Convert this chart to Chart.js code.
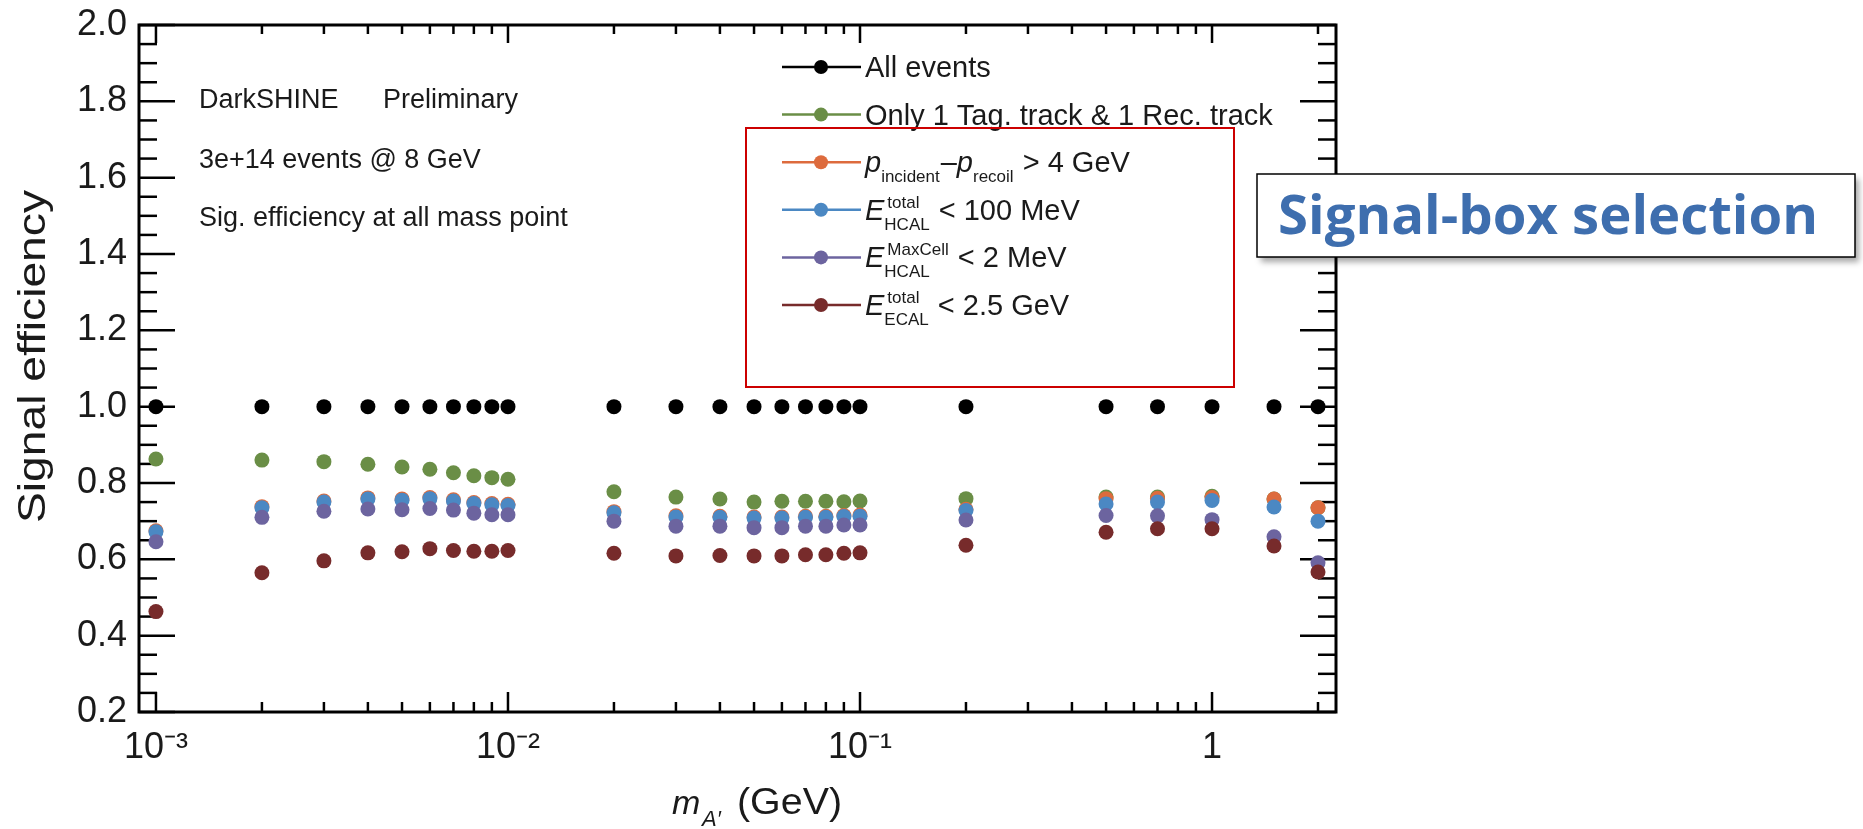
<!DOCTYPE html>
<html>
<head>
<meta charset="utf-8">
<script src="https://cdn.jsdelivr.net/npm/chart.js@4.4.0/dist/chart.umd.min.js"></script>
<style>
    html, body { margin: 0; padding: 0; background: #fff; }
    #wrap { width: 1863px; height: 829px; position: relative; }
</style>
</head>
<body>
<div id="wrap"><canvas id="chart-eff"></canvas></div>
<script>
// A' mass points (GeV)
const masses = [0.001, 0.002, 0.003, 0.004, 0.005, 0.006, 0.007, 0.008, 0.009, 0.01,
    0.02, 0.03, 0.04, 0.05, 0.06, 0.07, 0.08, 0.09, 0.1, 0.2, 0.5, 0.7, 1, 1.5, 2];

const allEvents = [1, 1, 1, 1, 1, 1, 1, 1, 1, 1, 1, 1, 1, 1, 1, 1, 1, 1, 1, 1, 1, 1, 1, 1, 1];
const oneTagOneRec = [0.863, 0.860, 0.856, 0.849, 0.842, 0.836, 0.827, 0.819, 0.814, 0.810,
    0.777, 0.763, 0.758, 0.750, 0.752, 0.752, 0.752, 0.751, 0.753, 0.759, 0.763, 0.763, 0.765, 0.758, 0.735];
const pCut = [0.675, 0.738, 0.753, 0.761, 0.758, 0.762, 0.756, 0.749, 0.746, 0.744,
    0.725, 0.714, 0.713, 0.711, 0.711, 0.713, 0.713, 0.715, 0.716, 0.731, 0.759, 0.760, 0.762, 0.758, 0.735];
const hcalTotal = [0.672, 0.735, 0.750, 0.758, 0.755, 0.759, 0.753, 0.746, 0.743, 0.741,
    0.722, 0.711, 0.710, 0.708, 0.708, 0.710, 0.710, 0.712, 0.713, 0.728, 0.745, 0.750, 0.754, 0.737, 0.700];
const hcalMaxCell = [0.646, 0.710, 0.726, 0.732, 0.730, 0.733, 0.729, 0.721, 0.717, 0.717,
    0.700, 0.687, 0.687, 0.683, 0.683, 0.687, 0.687, 0.690, 0.690, 0.703, 0.715, 0.714, 0.704, 0.659, 0.591];
const ecalTotal = [0.463, 0.565, 0.596, 0.617, 0.620, 0.628, 0.623, 0.621, 0.621, 0.623,
    0.616, 0.609, 0.610, 0.609, 0.609, 0.612, 0.612, 0.616, 0.617, 0.637, 0.671, 0.680, 0.680, 0.635, 0.567];

const seriesNames = ["All events", "Only 1 Tag. track & 1 Rec. track", "p_incident - p_recoil > 4 GeV",
    "E^total_HCAL < 100 MeV", "E^MaxCell_HCAL < 2 MeV", "E^total_ECAL < 2.5 GeV"];
const colors = ["#000000", "#6a8e46", "#dd6b3d", "#4b88c3", "#6c649f", "#772b2b"];

const xTickValues = [0.001, 0.01, 0.1, 1];
const xTickLabels = ["10\u207B\u00B3", "10\u207B\u00B2", "10\u207B\u00B9", "1"];
const yTickValues = [0.2, 0.4, 0.6, 0.8, 1.0, 1.2, 1.4, 1.6, 1.8, 2.0];
const yTickLabels = ["0.2", "0.4", "0.6", "0.8", "1.0", "1.2", "1.4", "1.6", "1.8", "2.0"];

const infoLines = ["3e+14 events @ 8 GeV", "Sig. efficiency at all mass point"];

// rich legend labels (segments: t = text, it = italic, sup/sub = small stacked)
const legendRich = [
    [{ t: "All events" }],
    [{ t: "Only 1 Tag. track & 1 Rec. track" }],
    [{ t: "p", it: true }, { sub: "incident" }, { t: "\u2013" }, { t: "p", it: true }, { sub: "recoil" }, { t: " > 4 GeV" }],
    [{ t: "E", it: true }, { sup: "total", sub: "HCAL" }, { t: " < 100 MeV" }],
    [{ t: "E", it: true }, { sup: "MaxCell", sub: "HCAL" }, { t: " < 2 MeV" }],
    [{ t: "E", it: true }, { sup: "total", sub: "ECAL" }, { t: " < 2.5 GeV" }],
];

const FONT = '"Liberation Sans", Arial, sans-serif';
const TXT = "#1a1a1a";

const seriesValues = [allEvents, oneTagOneRec, pCut, hcalTotal, hcalMaxCell, ecalTotal];

function drawRich(ctx, segs, x, y, size, small) {
    segs.forEach((s) => {
        if (s.sup !== undefined || s.sub !== undefined) {
            ctx.font = small + "px " + FONT;
            let w = 0;
            if (s.sup) {
                ctx.fillText(s.sup, x + 3, y - size * 0.42);
                w = ctx.measureText(s.sup).width + 3;
            }
            if (s.sub) {
                ctx.fillText(s.sub, x, y + size * 0.34);
                w = Math.max(w, ctx.measureText(s.sub).width);
            }
            x += w + 1;
        } else {
            ctx.font = (s.it ? "italic " : "") + size + "px " + FONT;
            ctx.fillText(s.t, x, y);
            x += ctx.measureText(s.t).width;
        }
    });
    return x;
}

// stretched text along its own baseline
function fillStretch(ctx, str, x, y, sx) {
    ctx.save();
    ctx.translate(x, y);
    ctx.scale(sx, 1);
    ctx.fillText(str, 0, 0);
    ctx.restore();
}

const framePlugin = {
    id: "frame",
    beforeDatasetsDraw(chart) {
        const { ctx, chartArea } = chart;
        const { left, right, top, bottom } = chartArea;
        const xs = chart.scales.x;
        const ys = chart.scales.y;
        ctx.save();
        ctx.strokeStyle = "#000";
        ctx.lineWidth = 2.5;
        const line = (x1, y1, x2, y2) => {
            ctx.beginPath();
            ctx.moveTo(x1, y1);
            ctx.lineTo(x2, y2);
            ctx.stroke();
        };
        xs.ticks.forEach((t) => {
            const px = xs.getPixelForValue(t.value);
            const major = xTickValues.some((v) => Math.abs(v - t.value) < v * 1e-6);
            line(px, bottom, px, bottom - (major ? 20 : 10));
            line(px, top, px, top + (major ? 18 : 9));
        });
        for (let k = 0; k <= 36; k++) {
            const v = 0.2 + k * 0.05;
            const py = ys.getPixelForValue(v);
            const len = k % 4 === 0 ? 36 : 18;
            line(left, py, left + len, py);
            line(right, py, right - len, py);
        }
        ctx.lineWidth = 3;
        ctx.strokeRect(left, top, right - left, bottom - top);
        ctx.restore();
    },
    afterDraw(chart) {
        const { ctx, chartArea } = chart;
        const { left, top, bottom } = chartArea;
        ctx.save();
        ctx.fillStyle = TXT;
        ctx.textBaseline = "alphabetic";

        // info text
        ctx.font = "27px " + FONT;
        ctx.fillText("DarkSHINE", left + 60, top + 83);
        ctx.fillText("Preliminary", left + 244, top + 83);
        infoLines.forEach((s, i) => ctx.fillText(s, left + 60, top + 143 + i * 58));

        // y axis title
        ctx.save();
        ctx.translate(35, (top + bottom) / 2 - 12);
        ctx.rotate(-Math.PI / 2);
        ctx.font = "38px " + FONT;
        ctx.textAlign = "center";
        ctx.textBaseline = "middle";
        const tw = ctx.measureText("Signal efficiency").width;
        ctx.scale(333 / tw, 1);
        ctx.fillText("Signal efficiency", 0, 0);
        ctx.restore();

        // legend
        legendRich.forEach((segs, i) => {
            const cy = top + 42 + i * 47.6;
            ctx.strokeStyle = colors[i];
            ctx.lineWidth = 2.5;
            ctx.beginPath();
            ctx.moveTo(782, cy);
            ctx.lineTo(861, cy);
            ctx.stroke();
            ctx.fillStyle = colors[i];
            ctx.beginPath();
            ctx.arc(821, cy, 7, 0, Math.PI * 2);
            ctx.fill();
            ctx.fillStyle = TXT;
            drawRich(ctx, segs, 865, cy + 10, 29, 17);
        });

        // red highlight box around the signal-box cuts
        ctx.strokeStyle = "#cc0000";
        ctx.lineWidth = 2;
        ctx.strokeRect(746, 128, 488, 259);

        // x axis title: m_A' (GeV)
        ctx.fillStyle = TXT;
        ctx.font = "italic 34px " + FONT;
        ctx.fillText("m", 672, 814);
        ctx.font = "italic 22px " + FONT;
        ctx.fillText("A\u2032", 702, 826);
        ctx.font = "36px " + FONT;
        const gw = ctx.measureText("(GeV)").width;
        fillStretch(ctx, "(GeV)", 737, 814, 105 / gw);

        // callout box
        ctx.shadowColor = "rgba(0,0,0,0.35)";
        ctx.shadowBlur = 6;
        ctx.shadowOffsetX = 4;
        ctx.shadowOffsetY = 5;
        ctx.fillStyle = "#fff";
        ctx.fillRect(1257, 174, 598, 83);
        ctx.shadowColor = "transparent";
        ctx.strokeStyle = "#000";
        ctx.lineWidth = 1.5;
        ctx.strokeRect(1257, 174, 598, 83);
        ctx.fillStyle = "#3e6eae";
        ctx.font = 'bold 54px "Open Sans", "Noto Sans", sans-serif';
        const sw = ctx.measureText("Signal-box selection").width;
        fillStretch(ctx, "Signal-box selection", 1278, 234, 540 / sw);
        ctx.restore();
    },
};

const datasets = seriesValues.map((vals, i) => ({
    label: seriesNames[i],
    data: masses.map((m, j) => ({ x: m, y: vals[j] })),
    backgroundColor: colors[i],
    borderColor: colors[i],
    borderWidth: 0,
    pointRadius: 7.5,
    pointHoverRadius: 7.5,
    showLine: false,
    order: seriesValues.length - i,
}));

const ctx = document.getElementById("chart-eff");

new Chart(ctx, {
    type: "scatter",
    data: { datasets: datasets },
    options: {
        responsive: true,
        maintainAspectRatio: false,
        animation: false,
        layout: { padding: { left: 0, top: 25, right: 527, bottom: 0 } },
        plugins: {
            legend: { display: false },
            tooltip: { enabled: false },
        },
        scales: {
            x: {
                type: "logarithmic",
                min: 0.000895,
                max: 2.25,
                afterFit(scale) {
                    scale.height = 117;
                    scale.paddingLeft = 0;
                    scale.paddingRight = 0;
                },
                afterBuildTicks(scale) {
                    const t = [];
                    for (let d = -3; d <= 0; d++) {
                        for (let k = 1; k <= 9; k++) {
                            const v = k * Math.pow(10, d);
                            if (v >= 0.001 && v <= scale.max) t.push({ value: v });
                        }
                    }
                    scale.ticks = t;
                },
                grid: { display: false, drawTicks: false },
                border: { display: false },
                ticks: {
                    autoSkip: false,
                    maxRotation: 0,
                    padding: 14,
                    color: TXT,
                    font: { size: 36, family: FONT },
                    callback: (val) => {
                        const i = xTickValues.findIndex((v) => Math.abs(v - val) < v * 1e-6);
                        return i >= 0 ? xTickLabels[i] : "";
                    },
                },
            },
            y: {
                type: "linear",
                min: 0.2,
                max: 2.0,
                afterFit(scale) {
                    scale.width = 139;
                    scale.paddingTop = 0;
                    scale.paddingBottom = 0;
                },
                afterBuildTicks(scale) {
                    scale.ticks = yTickValues.map((v) => ({ value: v }));
                },
                grid: { display: false, drawTicks: false },
                border: { display: false },
                ticks: {
                    padding: 12,
                    color: TXT,
                    font: { size: 36, family: FONT },
                    callback: (val) => {
                        const i = yTickValues.findIndex((v) => Math.abs(v - val) < 1e-6);
                        return i >= 0 ? yTickLabels[i] : "";
                    },
                },
            },
        },
    },
    plugins: [framePlugin],
});
</script>
</body>
</html>
